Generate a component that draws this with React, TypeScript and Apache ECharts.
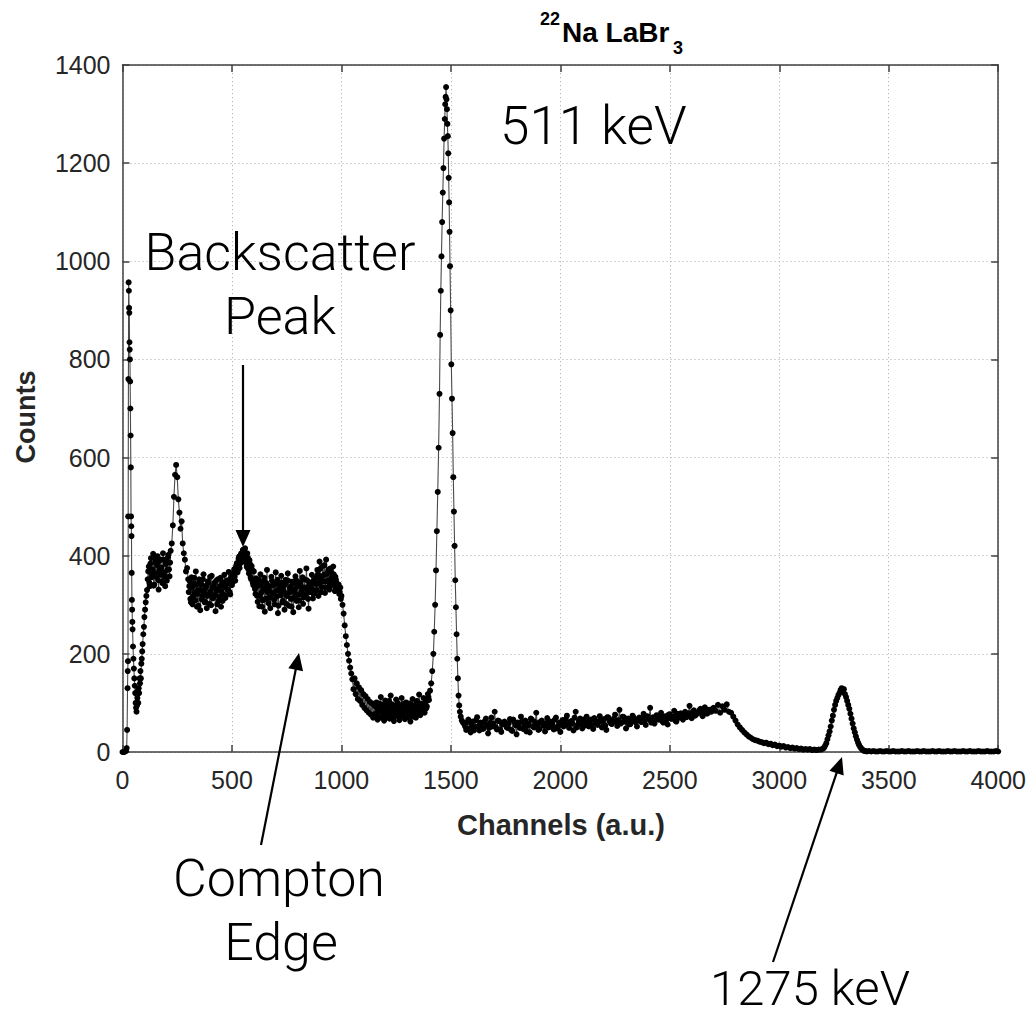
import React, { useEffect, useRef } from "react";
import * as echarts from "echarts";

// ---------- data (channel / counts) ----------
const lowChannels = [0, 4, 8, 12, 16, 19, 21, 23, 24, 25, 26, 27, 28, 29, 30, 31, 32, 33, 34, 35, 36, 37, 38, 39, 40, 41, 42, 43, 44, 45, 46, 48, 50, 52, 54, 56, 58, 60, 62, 64, 66, 68, 70, 72, 74, 76, 78, 80, 82, 84, 86, 88, 90, 92, 95, 98, 100, 103, 106, 109, 112];
const lowCounts = [0, 0, 0, 1, 2, 8, 45, 130, 165, 185, 480, 760, 957, 940, 905, 895, 835, 820, 800, 755, 700, 645, 580, 480, 460, 440, 365, 310, 290, 265, 250, 215, 190, 170, 150, 135, 120, 100, 90, 82, 95, 110, 125, 100, 130, 120, 150, 140, 165, 150, 180, 190, 205, 220, 240, 255, 275, 290, 305, 318, 330];

// channels 115..220, step 5  (and 117.5..217.5 for the B set)
const plateauCounts = [352, 378, 338, 395, 362, 404, 341, 386, 357, 399, 331, 372, 392, 348, 405, 366, 338, 389, 371, 402, 358, 410];
const plateauCountsB = [368, 345, 384, 356, 372, 339, 395, 364, 381, 350, 389, 361, 376, 344, 392, 358, 383, 349, 397, 372, 386];
// channels 225..300, step 5
const bumpCounts = [425, 462, 520, 565, 585, 560, 515, 488, 455, 470, 425, 405, 392, 368, 375, 352];
// channels 305..500, step 5 (B: 302.5..497.5)
const valleyCounts = [338, 312, 356, 301, 344, 325, 368, 296, 330, 352, 289, 341, 318, 362, 305, 334, 293, 348, 322, 357, 299, 336, 315, 344, 287, 329, 352, 308, 338, 296, 346, 321, 361, 314, 342, 331, 367, 326, 353, 340];
const valleyCountsB = [326, 348, 305, 335, 317, 355, 309, 341, 322, 298, 347, 330, 311, 352, 325, 306, 339, 318, 345, 302, 327, 359, 313, 336, 320, 349, 301, 332, 316, 355, 327, 308, 344, 336, 319, 350, 330, 344, 321, 357];
// channels 505..600, step 5 (B: 502.5..597.5)
const backscatterCounts = [358, 372, 349, 381, 366, 394, 375, 402, 388, 412, 396, 415, 384, 405, 372, 391, 356, 379, 345, 368];
const backscatterCountsB = [346, 365, 357, 376, 385, 371, 398, 384, 405, 392, 408, 399, 390, 377, 396, 364, 383, 352, 371, 340];
// channels 605..880, step 5 (B: 602.5..877.5)
const comptonCounts = [332, 354, 318, 341, 297, 362, 325, 309, 348, 286, 336, 371, 314, 329, 293, 357, 322, 340, 301, 366, 317, 283, 345, 328, 359, 305, 337, 290, 351, 319, 364, 298, 333, 312, 347, 285, 326, 358, 308, 341, 295, 369, 321, 336, 302, 352, 317, 374, 329, 292, 346, 338, 361, 313, 350, 327];
const comptonCountsB = [348, 322, 337, 306, 351, 318, 340, 296, 331, 355, 312, 344, 326, 303, 338, 315, 349, 324, 310, 343, 329, 351, 298, 336, 319, 345, 308, 327, 341, 302, 318, 349, 325, 337, 296, 343, 314, 332, 351, 320, 338, 309, 346, 327, 356, 315, 335, 322, 350, 312, 339, 326, 343, 331, 322, 348];
// channels 885..1000, step 5 (B: 882.5..997.5)
const edgeCounts = [342, 371, 318, 388, 352, 336, 379, 361, 324, 392, 347, 368, 331, 374, 356, 340, 362, 328, 351, 337, 330, 322, 335, 318];
const edgeCountsB = [355, 330, 362, 344, 373, 326, 358, 347, 381, 335, 363, 350, 372, 341, 366, 349, 378, 338, 357, 345, 334, 341, 326, 312];
// channels 1005..1150, step 5
const dropCounts = [300, 282, 258, 236, 218, 200, 186, 172, 160, 148, 128, 150, 118, 140, 108, 132, 104, 126, 96, 118, 90, 114, 85, 108, 80, 102, 76, 99, 70, 95];
// channels 1155..1400, step 5 (B: 1157.5..1397.5)
const gapCounts = [78, 101, 66, 94, 83, 112, 72, 90, 64, 105, 86, 76, 98, 68, 115, 81, 93, 63, 88, 107, 74, 96, 65, 84, 110, 79, 92, 67, 101, 85, 71, 99, 62, 89, 108, 77, 94, 70, 104, 83, 117, 75, 96, 88, 110, 80, 102, 93, 118, 106];
const gapCountsB = [92, 74, 86, 99, 70, 83, 96, 77, 89, 72, 95, 84, 104, 73, 88, 97, 69, 91, 79, 86, 100, 71, 93, 82, 75, 98, 87, 69, 94, 80, 91, 76, 97, 83, 72, 90, 85, 101, 78, 92, 86, 99, 81, 93, 84, 97, 89, 105, 112];
// 511 keV photopeak
const peak511Channels = [1405, 1410, 1415, 1420, 1424, 1428, 1432, 1436, 1440, 1444, 1448, 1451, 1454, 1457, 1460, 1463, 1466, 1469, 1472, 1474, 1476, 1478, 1480, 1482, 1484, 1486, 1488, 1490, 1492, 1494, 1496, 1499, 1502, 1505, 1508, 1511, 1514, 1517, 1520, 1523, 1526, 1529, 1532, 1535, 1538, 1541, 1545, 1550, 1555];
const peak511Counts = [125, 140, 165, 200, 245, 300, 370, 450, 530, 620, 730, 850, 940, 1010, 1080, 1140, 1190, 1250, 1290, 1320, 1335, 1355, 1330, 1310, 1280, 1255, 1220, 1170, 1120, 1060, 990, 900, 790, 720, 650, 560, 490, 420, 350, 295, 240, 190, 150, 115, 95, 82, 72, 64, 60];
// channels 1560..2700, step 10 (B: 1565..2695)
const flatCounts = [
  58, 45, 66, 40, 62, 51, 71, 44, 57, 48, 68, 38, 60, 52, 82, 46, 63, 41, 59, 55,
  49, 67, 43, 61, 36, 58, 72, 47, 64, 53, 40, 66, 50, 80, 45, 62, 57, 42, 69, 51,
  60, 46, 70, 53, 41, 65, 58, 74, 49, 63, 44, 82, 56, 68, 48, 61, 72, 52, 66, 47,
  64, 55, 73, 50, 67, 45, 70, 59, 62, 76, 53, 86, 60, 71, 48, 68, 57, 74, 63, 52,
  70, 61, 78, 55, 72, 90, 64, 58, 75, 66, 80, 60, 73, 56, 77, 68, 84, 62, 71, 79,
  66, 82, 72, 94, 69, 85, 76, 80, 88, 73, 91, 78, 86, 82, 90,
];
const flatCountsB = [
  52, 61, 48, 57, 44, 65, 53, 60, 47, 63, 55, 49, 70, 58, 51, 64, 46, 56, 62, 50,
  59, 45, 66, 54, 60, 49, 63, 56, 42, 58, 68, 52, 61, 55, 47, 64, 53, 59, 50, 62,
  55, 66, 48, 60, 57, 52, 67, 55, 61, 58, 70, 50, 63, 57, 66, 54, 60, 64, 55, 69,
  58, 62, 66, 59, 54, 71, 63, 57, 68, 61, 65, 58, 72, 62, 67, 56, 64, 70, 60, 66,
  64, 69, 62, 73, 67, 60, 71, 65, 69, 74, 63, 70, 66, 76, 68, 72, 64, 78, 70, 74,
  75, 71, 79, 76, 82, 74, 80, 85, 78, 83, 87, 80, 85, 88,
];
// channels 2710..3200, step 10
const shoulderCounts = [84, 96, 80, 93, 86, 97, 82, 80, 72, 64, 56, 50, 45, 40, 36, 32, 29, 26, 24, 23, 21, 20, 18, 19, 16, 17, 14, 15, 12, 13, 11, 12, 9, 10, 8, 9, 7, 8, 6, 7, 5, 6, 5, 6, 4, 5, 4, 5, 5, 7];
// channels 3205..3400, step 5 (1275 keV peak)
const peak1275Counts = [9, 13, 18, 26, 34, 42, 52, 64, 74, 86, 96, 104, 110, 116, 120, 126, 130, 124, 128, 118, 112, 104, 96, 88, 78, 68, 58, 48, 40, 32, 25, 19, 14, 10, 7, 5, 3, 2, 2, 1];
// channels 3410..4000, step 10
const tailCounts = [2, 1, 2, 1, 1, 2, 1, 1, 2, 1, 1, 2, 1, 1, 1, 2, 1, 1, 2, 1, 1, 1, 2, 1, 1, 2, 1, 1, 1, 2, 1, 1, 2, 1, 1, 1, 2, 1, 1, 2, 1, 1, 1, 2, 1, 1, 2, 1, 1, 1, 2, 1, 1, 1, 2, 1, 1, 1, 2, 1];

const xTicks = { min: 0, max: 4000, interval: 500 };
const yTicks = { min: 0, max: 1400, interval: 200 };

const run = (start: number, step: number, counts: number[]) =>
  counts.map((c, i) => [start + i * step, c]);
const pairs = (xs: number[], ys: number[]) => xs.map((x, i) => [x, ys[i]]);

const spectrum = [
  ...pairs(lowChannels, lowCounts),
  ...run(115, 5, plateauCounts),
  ...run(117.5, 5, plateauCountsB),
  ...run(225, 5, bumpCounts),
  ...run(305, 5, valleyCounts),
  ...run(302.5, 5, valleyCountsB),
  ...run(505, 5, backscatterCounts),
  ...run(502.5, 5, backscatterCountsB),
  ...run(605, 5, comptonCounts),
  ...run(602.5, 5, comptonCountsB),
  ...run(885, 5, edgeCounts),
  ...run(882.5, 5, edgeCountsB),
  ...run(1005, 5, dropCounts),
  ...run(1155, 5, gapCounts),
  ...run(1157.5, 5, gapCountsB),
  ...pairs(peak511Channels, peak511Counts),
  ...run(1560, 10, flatCounts),
  ...run(1565, 10, flatCountsB),
  ...run(2710, 10, shoulderCounts),
  ...run(3205, 5, peak1275Counts),
  ...run(3410, 10, tailCounts),
].sort((a, b) => a[0] - b[0]);

const ANNOT_FONT = "Roboto, 'Liberation Sans', sans-serif";
const AXIS_FONT = "'Liberation Sans', Arial, Helvetica, sans-serif";

function arrow(x1: number, y1: number, x2: number, y2: number) {
  const dx = x2 - x1, dy = y2 - y1;
  const len = Math.sqrt(dx * dx + dy * dy);
  const ux = dx / len, uy = dy / len;
  const L = 17, W = 7.5;
  const bx = x2 - ux * L, by = y2 - uy * L;
  const nx = -uy, ny = ux;
  return [
    { type: "line", shape: { x1, y1, x2: bx + ux * 2, y2: by + uy * 2 }, style: { stroke: "#000", lineWidth: 2.2 }, z: 100 },
    {
      type: "polygon",
      shape: { points: [[x2, y2], [bx + nx * W, by + ny * W], [bx - nx * W, by - ny * W]] },
      style: { fill: "#000" },
      z: 100,
    },
  ];
}

function annot(text: string, x: number, y: number, align = "center", size = 52) {
  return {
    type: "text",
    x,
    y,
    z: 100,
    style: {
      text,
      fill: "#000",
      font: `300 ${size}px ${ANNOT_FONT}`,
      textAlign: align,
      textVerticalAlign: "middle",
    },
  };
}

export default function App() {
  const ref = useRef<HTMLDivElement>(null);
  useEffect(() => {
    if (!ref.current) return;
    const chart = echarts.init(ref.current, undefined, { renderer: "svg" });
    const axisLineStyle = { color: "#404040", width: 1.5 };
    const gridStyle = { color: "#b8b8b8", width: 1, type: [1.2, 2.8] as any };
    const plain = (v: number) => String(v);
    chart.setOption({
      animation: false,
      backgroundColor: "#ffffff",
      grid: { left: 122.5, right: 30, top: 65, bottom: 265, containLabel: false },
      xAxis: [
        {
          type: "value",
          position: "bottom",
          ...xTicks,
          axisLine: { show: true, onZero: false, lineStyle: axisLineStyle },
          axisTick: { show: true, inside: true, length: 7, lineStyle: axisLineStyle },
          axisLabel: { fontSize: 25, color: "#262626", margin: 15, fontFamily: AXIS_FONT, formatter: plain },
          splitLine: { show: true, lineStyle: gridStyle },
        },
        {
          type: "value",
          position: "top",
          ...xTicks,
          axisLine: { show: true, onZero: false, lineStyle: axisLineStyle },
          axisTick: { show: true, inside: true, length: 7, lineStyle: axisLineStyle },
          axisLabel: { show: false },
          splitLine: { show: false },
        },
      ],
      yAxis: [
        {
          type: "value",
          position: "left",
          ...yTicks,
          axisLine: { show: true, onZero: false, lineStyle: axisLineStyle },
          axisTick: { show: true, inside: true, length: 7, lineStyle: axisLineStyle },
          axisLabel: { fontSize: 25, color: "#262626", margin: 12, fontFamily: AXIS_FONT, formatter: plain },
          splitLine: { show: true, lineStyle: gridStyle },
        },
        {
          type: "value",
          position: "right",
          ...yTicks,
          axisLine: { show: true, onZero: false, lineStyle: axisLineStyle },
          axisTick: { show: true, inside: true, length: 7, lineStyle: axisLineStyle },
          axisLabel: { show: false },
          splitLine: { show: false },
        },
      ],
      series: [
        {
          type: "line",
          data: spectrum,
          xAxisIndex: 0,
          yAxisIndex: 0,
          symbol: "circle",
          symbolSize: 6,
          showSymbol: true,
          showAllSymbol: true,
          itemStyle: { color: "#000" },
          lineStyle: { color: "#4a4a4a", width: 1.1 },
          emphasis: { disabled: true },
          z: 5,
        },
      ],
      graphic: [
        // title
        { type: "text", x: 540, y: 19, style: { text: "22", font: `bold 18px ${AXIS_FONT}`, fill: "#000", textAlign: "left", textVerticalAlign: "middle" } },
        { type: "text", x: 562, y: 32.5, style: { text: "Na LaBr", font: `bold 28px ${AXIS_FONT}`, fill: "#000", textAlign: "left", textVerticalAlign: "middle" } },
        { type: "text", x: 673, y: 47.5, style: { text: "3", font: `bold 18px ${AXIS_FONT}`, fill: "#000", textAlign: "left", textVerticalAlign: "middle" } },
        // axis titles
        { type: "text", x: 561, y: 825, style: { text: "Channels (a.u.)", font: `bold 29px ${AXIS_FONT}`, fill: "#262626", textAlign: "center", textVerticalAlign: "middle" } },
        { type: "text", x: 26, y: 417, rotation: Math.PI / 2, style: { text: "Counts", font: `bold 27px ${AXIS_FONT}`, fill: "#262626", textAlign: "center", textVerticalAlign: "middle" } },
        // annotations
        annot("511 keV", 500, 126, "left", 53),
        annot("Backscatter", 280, 252),
        annot("Peak", 280, 316),
        annot("Compton", 279, 878),
        annot("Edge", 281, 942),
        annot("1275 keV", 810, 988, "center", 49),
        ...arrow(243, 365, 243, 547),
        ...arrow(261, 845, 299, 653),
        ...arrow(773, 962, 842, 757),
      ],
    });
    return () => chart.dispose();
  }, []);
  return (
    <div
      ref={ref}
      style={{ position: "absolute", left: 0, top: 0, width: 1029, height: 1017, background: "#fff" }}
    />
  );
}
